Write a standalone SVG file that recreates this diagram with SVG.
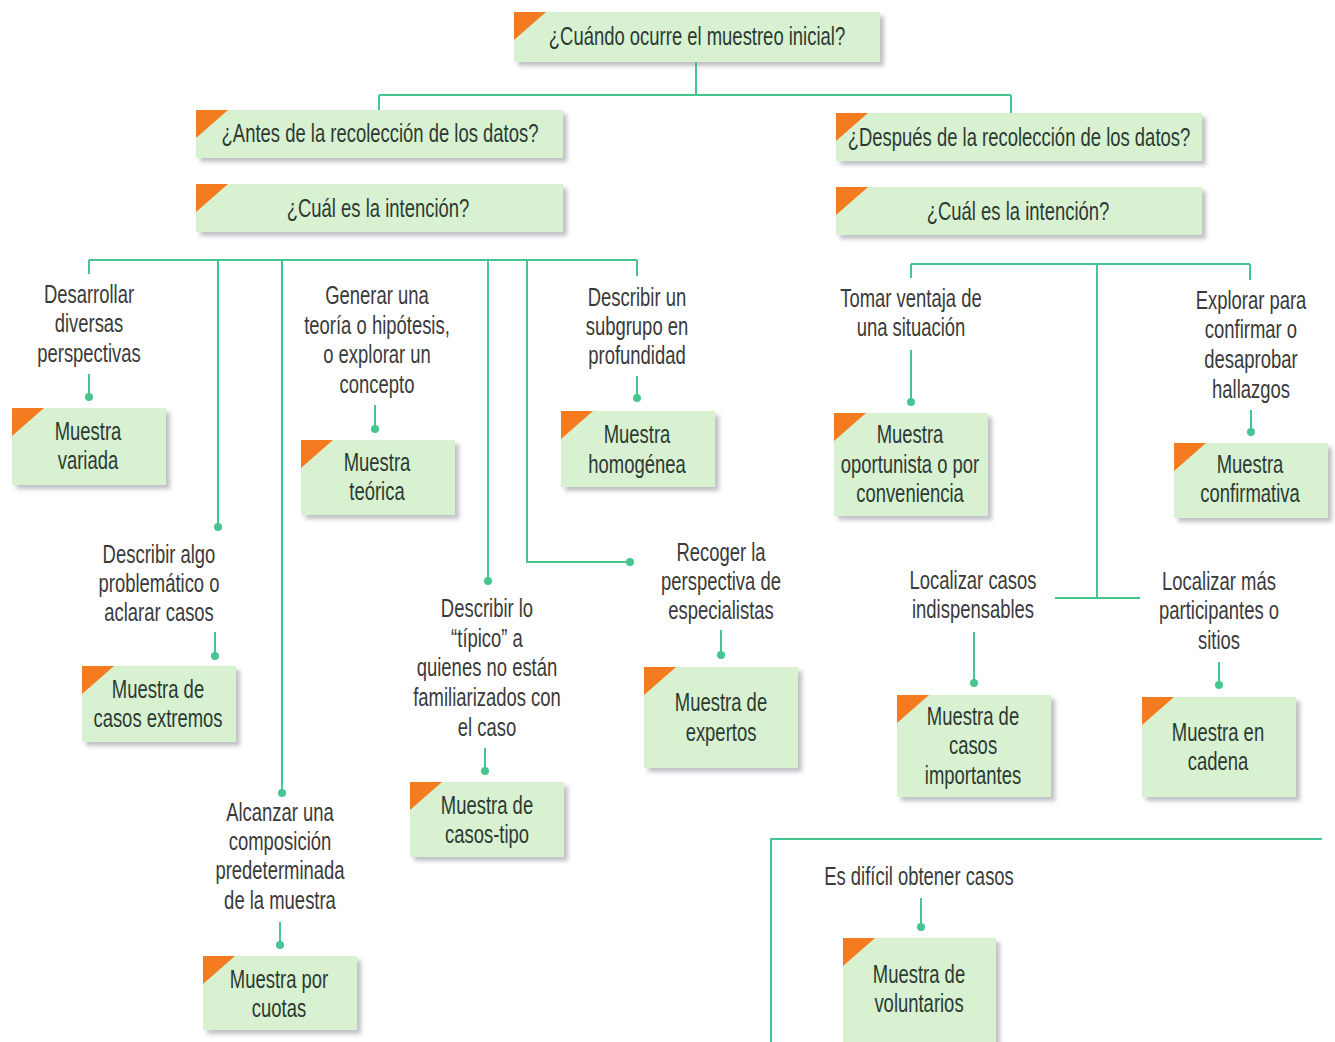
<svg xmlns="http://www.w3.org/2000/svg" width="1335" height="1042" viewBox="0 0 1335 1042">
<defs>
<filter id="sh" x="-10%" y="-20%" width="130%" height="150%">
<feDropShadow dx="4" dy="4" stdDeviation="2" flood-color="#8a8f96" flood-opacity="0.55"/>
</filter>
<style>
.box{fill:#d8f1d1;filter:url(#sh)}
.tri{fill:#f47b20}
.bt{font-family:"Liberation Sans",Arial,sans-serif;font-size:26px;fill:#2c3a33;text-anchor:middle}
.lt{font-family:"Liberation Sans",Arial,sans-serif;font-size:26px;fill:#3a3a3a;text-anchor:middle}
.ln{stroke:#45c58f;stroke-width:2;fill:none}
.dot{fill:#45c58f}
</style>
</defs>
<rect width="1335" height="1042" fill="#ffffff"/>

<g id="connectors">
<path class="ln" d="M696 62V95M379 95H1011M379 95V110M1011 95V113"/>
<path class="ln" d="M89 260H637M89 260V274M218 260V527M282 260V793M488 260V581M527 260V562H630M637 260V276"/>
<path class="ln" d="M89 374V397M215 632V656M280 922V945M375 405V429M485 748V771M637 376V398M721 630V655"/>
<path class="ln" d="M911 264H1250M911 264V278M1250 264V280M1097 264V598M1055 598H1140"/>
<path class="ln" d="M911 350V402M1251 410V432M974 632V683M1219 662V685"/>
<path class="ln" d="M771 1042V839H1322M921 898V927"/>
<circle class="dot" cx="89" cy="397" r="4"/>
<circle class="dot" cx="218" cy="527" r="4"/>
<circle class="dot" cx="215" cy="656" r="4"/>
<circle class="dot" cx="282" cy="793" r="4"/>
<circle class="dot" cx="280" cy="945" r="4"/>
<circle class="dot" cx="375" cy="429" r="4"/>
<circle class="dot" cx="488" cy="581" r="4"/>
<circle class="dot" cx="485" cy="771" r="4"/>
<circle class="dot" cx="637" cy="398" r="4"/>
<circle class="dot" cx="630" cy="562" r="4"/>
<circle class="dot" cx="721" cy="655" r="4"/>
<circle class="dot" cx="911" cy="402" r="4"/>
<circle class="dot" cx="1251" cy="432" r="4"/>
<circle class="dot" cx="974" cy="683" r="4"/>
<circle class="dot" cx="1219" cy="685" r="4"/>
<circle class="dot" cx="921" cy="927" r="4"/>
</g>

<g id="n-inicial"><rect class="box" x="514" y="12" width="366" height="50"/><polygon class="tri" points="514,12 546,12 514,40"/><text class="bt" transform="translate(697 45) scale(.71 1)">¿Cuándo ocurre el muestreo inicial?</text></g>
<g id="n-antes"><rect class="box" x="196" y="110" width="367" height="48"/><polygon class="tri" points="196,110 228,110 196,138"/><text class="bt" transform="translate(380 142) scale(.71 1)">¿Antes de la recolección de los datos?</text></g>
<g id="n-despues"><rect class="box" x="836" y="113" width="366" height="48"/><polygon class="tri" points="836,113 868,113 836,141"/><text class="bt" transform="translate(1019 146) scale(.71 1)">¿Después de la recolección de los datos?</text></g>
<g id="n-int1"><rect class="box" x="196" y="184" width="367" height="48"/><polygon class="tri" points="196,184 228,184 196,212"/><text class="bt" transform="translate(378 217) scale(.71 1)">¿Cuál es la intención?</text></g>
<g id="n-int2"><rect class="box" x="836" y="187" width="366" height="48"/><polygon class="tri" points="836,187 868,187 836,215"/><text class="bt" transform="translate(1018 220) scale(.71 1)">¿Cuál es la intención?</text></g>

<g id="l-desarrollar"><text class="lt" transform="translate(89 303) scale(.71 1)">Desarrollar</text><text class="lt" transform="translate(89 332) scale(.71 1)">diversas</text><text class="lt" transform="translate(89 362) scale(.71 1)">perspectivas</text></g>
<g id="n-variada"><rect class="box" x="12" y="408" width="154" height="77"/><polygon class="tri" points="12,408 44,408 12,436"/><text class="bt" transform="translate(88 440) scale(.71 1)">Muestra</text><text class="bt" transform="translate(88 469) scale(.71 1)">variada</text></g>

<g id="l-algo"><text class="lt" transform="translate(159 563) scale(.71 1)">Describir algo</text><text class="lt" transform="translate(159 592) scale(.71 1)">problemático o</text><text class="lt" transform="translate(159 621) scale(.71 1)">aclarar casos</text></g>
<g id="n-extremos"><rect class="box" x="82" y="666" width="154" height="76"/><polygon class="tri" points="82,666 114,666 82,694"/><text class="bt" transform="translate(158 698) scale(.71 1)">Muestra de</text><text class="bt" transform="translate(158 727) scale(.71 1)">casos extremos</text></g>

<g id="l-alcanzar"><text class="lt" transform="translate(280 821) scale(.71 1)">Alcanzar una</text><text class="lt" transform="translate(280 850) scale(.71 1)">composición</text><text class="lt" transform="translate(280 879) scale(.71 1)">predeterminada</text><text class="lt" transform="translate(280 909) scale(.71 1)">de la muestra</text></g>
<g id="n-cuotas"><rect class="box" x="203" y="956" width="154" height="74"/><polygon class="tri" points="203,956 235,956 203,984"/><text class="bt" transform="translate(279 988) scale(.71 1)">Muestra por</text><text class="bt" transform="translate(279 1017) scale(.71 1)">cuotas</text></g>

<g id="l-generar"><text class="lt" transform="translate(377 304) scale(.71 1)">Generar una</text><text class="lt" transform="translate(377 334) scale(.71 1)">teoría o hipótesis,</text><text class="lt" transform="translate(377 363) scale(.71 1)">o explorar un</text><text class="lt" transform="translate(377 393) scale(.71 1)">concepto</text></g>
<g id="n-teorica"><rect class="box" x="301" y="440" width="154" height="75"/><polygon class="tri" points="301,440 333,440 301,468"/><text class="bt" transform="translate(377 471) scale(.71 1)">Muestra</text><text class="bt" transform="translate(377 500) scale(.71 1)">teórica</text></g>

<g id="l-tipico"><text class="lt" transform="translate(487 617) scale(.71 1)">Describir lo</text><text class="lt" transform="translate(487 647) scale(.71 1)">“típico” a</text><text class="lt" transform="translate(487 676) scale(.71 1)">quienes no están</text><text class="lt" transform="translate(487 706) scale(.71 1)">familiarizados con</text><text class="lt" transform="translate(487 736) scale(.71 1)">el caso</text></g>
<g id="n-tipo"><rect class="box" x="410" y="782" width="154" height="75"/><polygon class="tri" points="410,782 442,782 410,810"/><text class="bt" transform="translate(487 814) scale(.71 1)">Muestra de</text><text class="bt" transform="translate(487 843) scale(.71 1)">casos-tipo</text></g>

<g id="l-subgrupo"><text class="lt" transform="translate(637 306) scale(.71 1)">Describir un</text><text class="lt" transform="translate(637 335) scale(.71 1)">subgrupo en</text><text class="lt" transform="translate(637 364) scale(.71 1)">profundidad</text></g>
<g id="n-homogenea"><rect class="box" x="561" y="411" width="154" height="76"/><polygon class="tri" points="561,411 593,411 561,439"/><text class="bt" transform="translate(637 443) scale(.71 1)">Muestra</text><text class="bt" transform="translate(637 473) scale(.71 1)">homogénea</text></g>

<g id="l-recoger"><text class="lt" transform="translate(721 561) scale(.71 1)">Recoger la</text><text class="lt" transform="translate(721 590) scale(.71 1)">perspectiva de</text><text class="lt" transform="translate(721 619) scale(.71 1)">especialistas</text></g>
<g id="n-expertos"><rect class="box" x="644" y="667" width="154" height="101"/><polygon class="tri" points="644,667 676,667 644,695"/><text class="bt" transform="translate(721 711) scale(.71 1)">Muestra de</text><text class="bt" transform="translate(721 741) scale(.71 1)">expertos</text></g>

<g id="l-tomar"><text class="lt" transform="translate(911 307) scale(.71 1)">Tomar ventaja de</text><text class="lt" transform="translate(911 336) scale(.71 1)">una situación</text></g>
<g id="n-oportunista"><rect class="box" x="834" y="413" width="154" height="103"/><polygon class="tri" points="834,413 866,413 834,441"/><text class="bt" transform="translate(910 443) scale(.71 1)">Muestra</text><text class="bt" transform="translate(910 473) scale(.71 1)">oportunista o por</text><text class="bt" transform="translate(910 502) scale(.71 1)">conveniencia</text></g>

<g id="l-explorar"><text class="lt" transform="translate(1251 309) scale(.71 1)">Explorar para</text><text class="lt" transform="translate(1251 338) scale(.71 1)">confirmar o</text><text class="lt" transform="translate(1251 368) scale(.71 1)">desaprobar</text><text class="lt" transform="translate(1251 398) scale(.71 1)">hallazgos</text></g>
<g id="n-confirmativa"><rect class="box" x="1174" y="443" width="154" height="75"/><polygon class="tri" points="1174,443 1206,443 1174,471"/><text class="bt" transform="translate(1250 473) scale(.71 1)">Muestra</text><text class="bt" transform="translate(1250 502) scale(.71 1)">confirmativa</text></g>

<g id="l-indispensables"><text class="lt" transform="translate(973 589) scale(.71 1)">Localizar casos</text><text class="lt" transform="translate(973 618) scale(.71 1)">indispensables</text></g>
<g id="n-importantes"><rect class="box" x="897" y="695" width="154" height="102"/><polygon class="tri" points="897,695 929,695 897,723"/><text class="bt" transform="translate(973 725) scale(.71 1)">Muestra de</text><text class="bt" transform="translate(973 754) scale(.71 1)">casos</text><text class="bt" transform="translate(973 784) scale(.71 1)">importantes</text></g>

<g id="l-participantes"><text class="lt" transform="translate(1219 590) scale(.71 1)">Localizar más</text><text class="lt" transform="translate(1219 619) scale(.71 1)">participantes o</text><text class="lt" transform="translate(1219 649) scale(.71 1)">sitios</text></g>
<g id="n-cadena"><rect class="box" x="1142" y="697" width="154" height="100"/><polygon class="tri" points="1142,697 1174,697 1142,725"/><text class="bt" transform="translate(1218 741) scale(.71 1)">Muestra en</text><text class="bt" transform="translate(1218 770) scale(.71 1)">cadena</text></g>

<g id="l-dificil"><text class="lt" transform="translate(919 885) scale(.71 1)">Es difícil obtener casos</text></g>
<g id="n-voluntarios"><rect class="box" x="843" y="938" width="153" height="104"/><polygon class="tri" points="843,938 875,938 843,966"/><text class="bt" transform="translate(919 983) scale(.71 1)">Muestra de</text><text class="bt" transform="translate(919 1012) scale(.71 1)">voluntarios</text></g>
</svg>
